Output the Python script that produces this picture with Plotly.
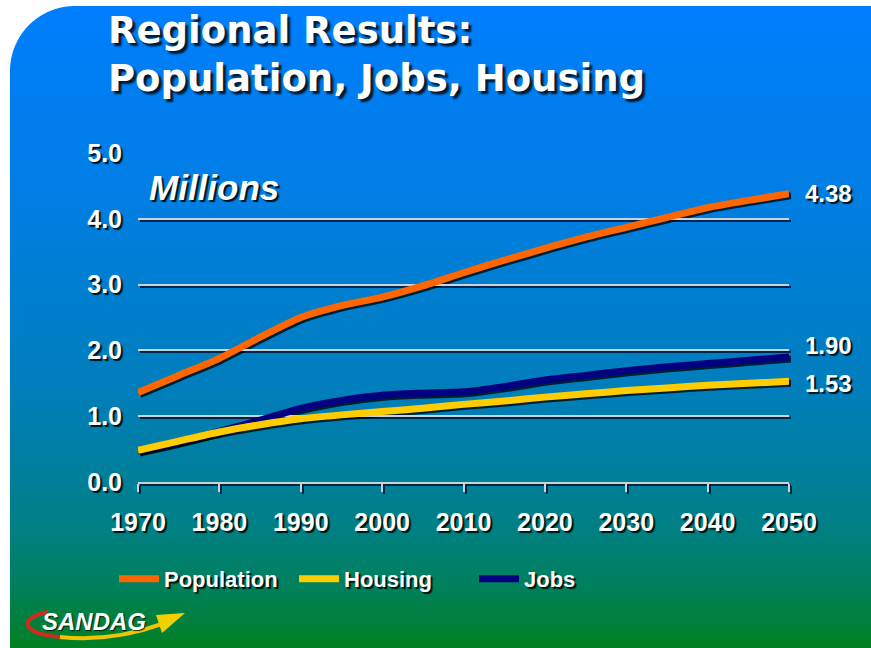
import base64
import struct
import zlib

import numpy as np
import plotly.graph_objects as go

# ---------------- data ----------------
years = [1970, 1975, 1980, 1985, 1990, 1995, 2000, 2005, 2010,
         2015, 2020, 2025, 2030, 2035, 2040, 2045, 2050]
population = [1.36, 1.62, 1.88, 2.20, 2.50, 2.68, 2.81, 2.98, 3.18,
              3.37, 3.55, 3.72, 3.87, 4.02, 4.17, 4.28, 4.38]
housing = [0.48, 0.62, 0.76, 0.87, 0.96, 1.02, 1.07, 1.12, 1.18,
           1.23, 1.29, 1.34, 1.39, 1.43, 1.47, 1.50, 1.53]
jobs = [0.47, 0.61, 0.77, 0.94, 1.12, 1.24, 1.32, 1.35, 1.37,
        1.45, 1.55, 1.62, 1.69, 1.75, 1.80, 1.85, 1.90]
y_ticks = [0, 1, 2, 3, 4, 5]
x_ticks = [1970, 1980, 1990, 2000, 2010, 2020, 2030, 2040, 2050]

W, H = 871, 648

# ---------------- background image (gradient + rounded corner) ----------------
t = np.arange(H) / (H - 1)
st = [0.0, 0.3, 0.6, 0.8, 0.9, 1.0]
sb = [255, 228, 188, 138, 95, 35]
sg = [126, 126, 126, 128, 128, 128]
bcol = np.interp(t, st, sb)
gcol = np.interp(t, st, sg)
img = np.zeros((H, W, 3), dtype=float)
img[:, :, 1] = gcol[:, None]
img[:, :, 2] = bcol[:, None]
xx, yy = np.meshgrid(np.arange(W) + 0.5, np.arange(H) + 0.5)
cx, cy, r = 75.0, 71.0, 65.0
alpha = np.ones((H, W))
alpha[xx < 10] = 0
alpha[yy < 6] = 0
corner = (xx < cx) & (yy < cy)
d = np.sqrt((xx - cx) ** 2 + (yy - cy) ** 2)
alpha = np.where(corner, np.minimum(alpha, np.clip(r + 0.5 - d, 0, 1)), alpha)
img = img * alpha[:, :, None] + 255 * (1 - alpha[:, :, None])
img = img.clip(0, 255).astype(np.uint8)


def png_bytes(a):
    h, w, _ = a.shape
    raw = b"".join(b"\x00" + a[i].tobytes() for i in range(h))

    def chunk(tag, data):
        c = struct.pack(">I", len(data)) + tag + data
        return c + struct.pack(">I", zlib.crc32(tag + data) & 0xFFFFFFFF)

    return (b"\x89PNG\r\n\x1a\n"
            + chunk(b"IHDR", struct.pack(">IIBBBBB", w, h, 8, 2, 0, 0, 0))
            + chunk(b"IDAT", zlib.compress(raw, 9))
            + chunk(b"IEND", b""))


bg_uri = "data:image/png;base64," + base64.b64encode(png_bytes(img)).decode()

# ---------------- figure ----------------
FONT = "Liberation Sans, Arial, sans-serif"
TITLE_FONT = "DejaVu Sans, Liberation Sans, sans-serif"
SHADOW = "2px 2px 1px rgba(0,0,0,0.85)"

colors = {"Population": "#FF6600", "Housing": "#FFCC00", "Jobs": "#000080"}
series = [("Jobs", jobs, 3), ("Housing", housing, 2), ("Population", population, 1)]

fig = go.Figure()

# shadow copies of the lines (on an axis pair shifted by 2px)
for name, vals, rank in series:
    fig.add_trace(go.Scatter(
        x=years, y=vals, mode="lines", xaxis="x", yaxis="y",
        line=dict(color="rgba(0,0,0,0.75)", width=7, shape="spline", smoothing=0.7),
        showlegend=False, hoverinfo="skip"))

for name, vals, rank in series:
    fig.add_trace(go.Scatter(
        x=years, y=vals, mode="lines", name=name, xaxis="x2", yaxis="y2",
        line=dict(color=colors[name], width=7, shape="spline", smoothing=0.7),
        legendrank=rank))


def px_x(p):
    return p / W


def px_y(p):
    return 1 - p / H


x_dom = [px_x(138), px_x(789)]
y_dom = [px_y(482), px_y(153)]
x_dom_s = [px_x(140), px_x(791)]
y_dom_s = [px_y(484), px_y(155)]

tick_font = dict(family=FONT, size=25, color="white", weight="bold", shadow=SHADOW)

fig.update_layout(
    width=W, height=H, autosize=False,
    margin=dict(l=0, r=0, t=0, b=0, pad=0, autoexpand=False),
    paper_bgcolor="white",
    plot_bgcolor="rgba(0,0,0,0)",
    images=[dict(source=bg_uri, xref="paper", yref="paper", x=0, y=1,
                 sizex=1, sizey=1, xanchor="left", yanchor="top",
                 sizing="stretch", layer="below")],
    xaxis=dict(domain=x_dom_s, range=[1970, 2050], anchor="y",
               showticklabels=False, showgrid=False, zeroline=False,
               showline=True, linecolor="rgba(0,0,30,0.7)", linewidth=2,
               ticks="outside", ticklen=8, tickwidth=2,
               tickcolor="rgba(0,0,30,0.7)", tickvals=x_ticks, fixedrange=True),
    yaxis=dict(domain=y_dom_s, range=[0, 5], anchor="x",
               showticklabels=False, showgrid=True,
               gridcolor="rgba(0,0,30,0.7)", gridwidth=2,
               zeroline=False, tickvals=y_ticks, fixedrange=True),
    xaxis2=dict(domain=x_dom, range=[1970, 2050], anchor="y2",
                tickvals=x_ticks, ticktext=[str(v) for v in x_ticks],
                showgrid=False, zeroline=False,
                showline=True, linecolor="#C8D4DC", linewidth=2,
                ticks="outside", ticklen=8, tickwidth=2, tickcolor="#C8D4DC",
                tickfont=tick_font, ticklabelstandoff=9, fixedrange=True),
    yaxis2=dict(domain=y_dom, range=[0, 5], anchor="x2",
                tickvals=y_ticks, ticktext=[f"{v:.1f}" for v in y_ticks],
                showgrid=True, gridcolor="#C8D4DC", gridwidth=2,
                zeroline=False, showline=False, ticks="",
                tickfont=tick_font, ticklabelstandoff=15, fixedrange=True),
    title=dict(text="Regional Results:<br>Population, Jobs, Housing",
               x=px_x(108), xanchor="left", xref="paper",
               y=px_y(43), yanchor="top", yref="paper",
               font=dict(family=TITLE_FONT, size=37, color="white", weight="bold",
                         shadow="3px 3px 2px rgba(0,0,0,0.8)")),
    legend=dict(orientation="h", x=px_x(114), y=px_y(579),
                xanchor="left", yanchor="middle",
                bgcolor="rgba(0,0,0,0)", itemwidth=40, entrywidth=125,
                font=dict(family=FONT, size=22, color="white", weight="bold",
                          shadow=SHADOW),
                traceorder="normal"),
    showlegend=True,
)

# "Millions" label
fig.add_annotation(text="Millions", xref="paper", yref="paper",
                   x=px_x(147), y=px_y(188), xanchor="left", yanchor="middle",
                   showarrow=False,
                   font=dict(family=FONT, size=35, color="white", weight="bold",
                             style="italic", shadow="2px 2px 1px rgba(0,0,0,0.85)"))

# end-of-line value labels
end_font = dict(family=FONT, size=24, color="white", weight="bold", shadow=SHADOW)
for name, vals, yshift in [("Population", population, 0), ("Jobs", jobs, 11),
                           ("Housing", housing, -2)]:
    fig.add_annotation(text=f"{vals[-1]:.2f}", xref="x2", yref="y2",
                       x=years[-1], y=vals[-1], xanchor="left", yanchor="middle",
                       xshift=14, yshift=yshift, showarrow=False, font=end_font)

# SANDAG logo (approximation)


def P(x, y):
    return f"{px_x(x):.5f},{px_y(y):.5f}"


fig.add_shape(type="path", xref="paper", yref="paper", layer="above",
              path=f"M {P(48, 612)} C {P(20, 617)} {P(18, 634)} {P(62, 637)}",
              line=dict(color="#D42A1E", width=4))
fig.add_shape(type="path", xref="paper", yref="paper", layer="above",
              path=f"M {P(60, 637)} C {P(100, 641)} {P(135, 634)} {P(162, 624)}",
              line=dict(color="#F2C400", width=4))
fig.add_shape(type="path", xref="paper", yref="paper", layer="above",
              path=f"M {P(185, 613)} L {P(156, 615)} L {P(162, 633)} Z",
              fillcolor="#F2D000", line=dict(width=0))
fig.add_annotation(text="SANDAG", xref="paper", yref="paper",
                   x=px_x(94), y=px_y(621), xanchor="center", yanchor="middle",
                   showarrow=False,
                   font=dict(family=FONT, size=24, color="white", weight="bold",
                             style="italic", shadow="1px 1px 1px rgba(0,0,0,0.8)"))

fig.write_html("out.html")
